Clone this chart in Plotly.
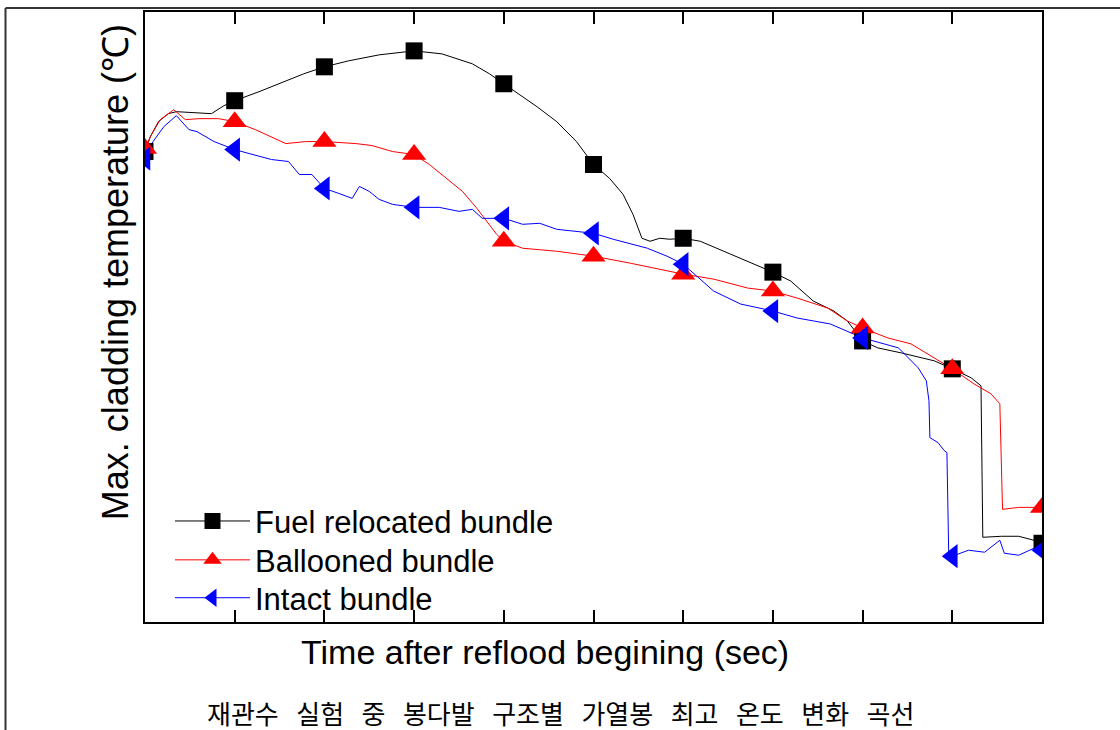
import plotly.graph_objects as go

# ---- data (time in arbitrary units, temperature in degC) ----
fuel_t = [0.00, 0.06, 0.15, 0.26, 0.35, 0.54, 0.74, 0.88, 1.00, 1.27, 1.55, 1.77, 2.00, 2.27, 2.61,
          3.00, 3.31, 3.65, 3.84, 4.00, 4.14, 4.37, 4.59, 4.81, 5.00, 5.18, 5.33, 5.44, 5.54, 5.63,
          5.74, 5.85, 6.00, 6.19, 6.53, 6.78, 7.00, 7.20, 7.45, 7.68, 7.83, 8.00, 8.17, 8.43, 8.80,
          9.00, 9.21, 9.32, 9.34, 9.55, 9.74, 9.91, 10.00]
fuel_T = [860, 875, 890, 898, 900, 899, 898, 906, 911, 920, 930, 938, 945, 951, 957,
          961, 958, 948, 938, 928, 920, 905, 890, 870, 847, 833, 817, 797, 773, 770,
          773, 772, 773, 770, 757, 747, 739, 730, 710, 700, 690, 670, 663, 658, 650,
          642, 633, 625, 473, 474, 474, 470, 467]

ball_t = [0.00, 0.06, 0.17, 0.32, 0.45, 0.60, 0.82, 1.00, 1.23, 1.41, 1.57, 1.79, 2.00, 2.35, 2.53,
          2.76, 3.00, 3.17, 3.36, 3.54, 3.70, 3.81, 3.92, 4.00, 4.21, 4.59, 5.00, 5.41, 5.74, 6.00,
          6.34, 6.72, 7.00, 7.27, 7.61, 7.83, 8.00, 8.28, 8.54, 8.80, 9.00, 9.24, 9.43, 9.53, 9.56,
          9.74, 9.91, 10.00]
ball_T = [863, 875, 892, 902, 892, 893, 893, 890, 882, 875, 868, 870, 870, 868, 866,
          860, 857, 847, 833, 820, 803, 790, 777, 770, 763, 760, 755, 748, 742, 737,
          732, 723, 720, 713, 703, 690, 683, 673, 667, 653, 642, 627, 617, 607, 501,
          503, 503, 503]

intact_t = [0.00, 0.09, 0.21, 0.35, 0.49, 0.58, 0.77, 1.00, 1.16, 1.41, 1.60, 1.72, 1.86, 2.00, 2.16,
            2.31, 2.39, 2.50, 2.61, 2.76, 3.00, 3.28, 3.50, 3.65, 3.76, 4.00, 4.21, 4.40, 4.59, 5.00,
            5.22, 5.60, 5.82, 6.00, 6.34, 6.64, 7.00, 7.27, 7.64, 8.00, 8.24, 8.40, 8.51, 8.62, 8.71,
            8.74, 8.75, 8.84, 8.91, 8.94, 8.96, 9.00, 9.18, 9.36, 9.53, 9.58, 9.74, 9.91, 10.00]
intact_T = [853, 870, 885, 896, 882, 880, 870, 862, 858, 852, 850, 837, 837, 823, 818,
            813, 825, 820, 812, 807, 804, 804, 800, 802, 793, 793, 787, 788, 782, 778,
            772, 763, 755, 747, 720, 707, 700, 693, 687, 673, 667, 663, 653, 643, 630,
            610, 573, 568, 560, 558, 457, 454, 460, 458, 470, 457, 455, 462, 460]

marker_t = [0, 1, 2, 3, 4, 5, 6, 7, 8, 9, 10]
fuel_mk = [860, 911, 945, 961, 928, 847, 773, 739, 670, 642, 467]
ball_mk = [863, 890, 870, 857, 770, 755, 737, 720, 683, 642, 503]
intact_mk = [853, 862, 823, 804, 793, 778, 747, 700, 673, 454, 460]

tick_vals = [1, 2, 3, 4, 5, 6, 7, 8, 9]

names = ["Fuel relocated bundle", "Ballooned bundle", "Intact bundle"]
colors = ["#000000", "#ff0000", "#0000ff"]
symbols = ["square", "triangle-up", "triangle-left"]
sizes = [17, 21, 21]
legend_ids = ["legend", "legend2", "legend3"]

series = [(fuel_t, fuel_T, fuel_mk), (ball_t, ball_T, ball_mk), (intact_t, intact_T, intact_mk)]

fig = go.Figure()
for (tt, TT, mk), nm, c in zip(series, names, colors):
    fig.add_trace(go.Scatter(x=tt, y=TT, mode="lines", line=dict(color=c, width=1),
                             showlegend=False, hoverinfo="skip"))


def gapped(vals):
    out = []
    for v in vals:
        out.extend([v, None])
    return out[:-1]


for (tt, TT, mk), nm, c, s, sz, lg in zip(series, names, colors, symbols, sizes, legend_ids):
    fig.add_trace(go.Scatter(x=gapped(marker_t), y=gapped(mk), mode="lines+markers", name=nm,
                             connectgaps=False, legend=lg,
                             line=dict(color=c, width=1),
                             marker=dict(symbol=s, size=sz, color=c, line=dict(width=0))))

W, H = 1120, 730
L, R, T, B = 145, 1042, 10, 622
pw, ph = R - L, B - T


def px(x):
    return (x - L) / pw


def py(y):
    return (B - y) / ph


FONT = "Liberation Sans, Arial, sans-serif"
caption_words = ["재관수", "실험", "중", "봉다발", "구조별", "가열봉", "최고", "온도", "변화", "곡선"]


def legend_at(row_y):
    return dict(x=px(170), y=py(row_y), xanchor="left", yanchor="middle",
                bgcolor="rgba(0,0,0,0)", borderwidth=0,
                font=dict(size=31, family=FONT), itemwidth=75, tracegroupgap=0)


fig.update_layout(
    width=W, height=H,
    margin=dict(l=L, r=W - R, t=T, b=H - B, pad=0),
    paper_bgcolor="white", plot_bgcolor="white",
    font=dict(family=FONT, color="black"),
    showlegend=True,
    legend=legend_at(521),
    legend2=legend_at(560),
    legend3=legend_at(598),
    xaxis=dict(range=[0, 10], tickvals=tick_vals, showticklabels=False, ticks="inside",
               ticklen=12, tickwidth=2, tickcolor="black", showline=True, linewidth=2,
               linecolor="black", mirror="ticks", showgrid=False, zeroline=False),
    yaxis=dict(range=[388, 1000], showticklabels=False, ticks="", showline=True, linewidth=2,
               linecolor="black", mirror=True, showgrid=False, zeroline=False),
    annotations=[
        dict(text="Time after reflood begining (sec)", xref="paper", yref="paper",
             x=px(545), y=py(652), xanchor="center", yanchor="middle", showarrow=False,
             font=dict(size=34, family=FONT)),
        dict(text="Max. cladding temperature (℃)", xref="paper", yref="paper",
             x=px(115), y=py(271), xanchor="center", yanchor="middle", showarrow=False,
             textangle=-90, font=dict(size=36, family=FONT)),
        dict(text="\u00a0\u00a0\u00a0".join(caption_words),
             xref="paper", yref="paper", x=px(560), y=py(713), xanchor="center",
             yanchor="middle", showarrow=False,
             font=dict(size=26, family="Noto Sans CJK KR, sans-serif")),
    ],
    shapes=[
        dict(type="line", xref="paper", yref="paper", x0=px(5.5), x1=px(1130), y0=py(6), y1=py(6),
             line=dict(color="#333333", width=2)),
        dict(type="line", xref="paper", yref="paper", x0=px(5.5), x1=px(5.5), y0=py(6), y1=py(740),
             line=dict(color="#333333", width=2)),
    ],
)

fig.write_html("out.html", config={"displayModeBar": False},
               post_script="document.body.style.margin='0';document.body.style.overflow='hidden';")
